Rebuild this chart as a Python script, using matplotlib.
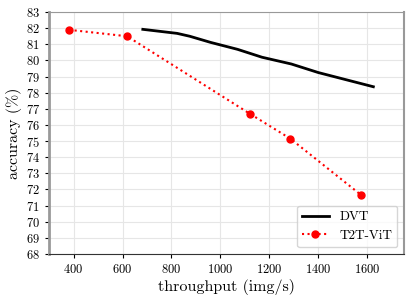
import matplotlib
matplotlib.use("Agg")
import matplotlib.pyplot as plt

plt.rcParams["font.family"] = "serif"
plt.rcParams["font.serif"] = ["cmr10"]
plt.rcParams["mathtext.fontset"] = "cm"
plt.rcParams["axes.formatter.use_mathtext"] = True

# DVT curve
dvt_tp = [683, 823, 875, 960, 1070, 1170, 1290, 1400, 1625]
dvt_acc = [81.93, 81.68, 81.5, 81.12, 80.69, 80.2, 79.78, 79.25, 78.37]

# T2T-ViT models
t2t_tp = [382, 619, 1120, 1286, 1573]
t2t_acc = [81.9, 81.5, 76.7, 75.15, 71.68]

fig, ax = plt.subplots(figsize=(4.16, 3.02), dpi=100)
ax.plot(dvt_tp, dvt_acc, color="black", linewidth=2, label="DVT")
ax.plot(t2t_tp, t2t_acc, color="red", linestyle=":", linewidth=1.5,
        marker="o", markersize=5, label="T2T-ViT")

ax.set_xlim(300, 1750)
ax.set_ylim(68, 83)
ax.set_xticks(range(400, 1601, 200))
ax.set_yticks(range(68, 84))
ax.tick_params(labelsize=9, length=3)
ax.grid(True, color="0.9", linewidth=0.8)
ax.set_axisbelow(True)
for side in ["left", "right", "top"]:
    ax.spines[side].set_color("0.6")
ax.spines["left"].set_linewidth(2)
ax.spines["right"].set_linewidth(1.5)
ax.spines["bottom"].set_color("0.2")

ax.set_xlabel("throughput (img/s)", fontsize=11.5, labelpad=2)
ax.set_ylabel("accuracy (%)", fontsize=11.5, labelpad=3)
ax.legend(loc="lower right", fontsize=9.5)

fig.subplots_adjust(left=0.118, right=0.971, top=0.96, bottom=0.159)
fig.savefig("out.png", dpi=100)
